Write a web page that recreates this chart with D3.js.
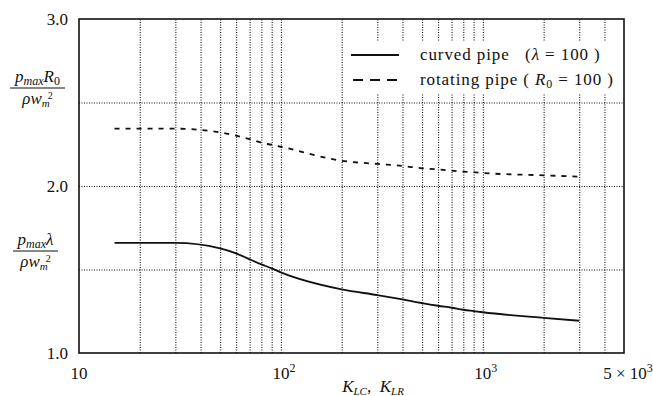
<!DOCTYPE html>
<html>
<head>
<meta charset="utf-8">
<script src="https://cdn.jsdelivr.net/npm/d3@7"></script>
<style>
  body { margin: 0; background: #fff; }
  text { font-family: "Liberation Serif", "DejaVu Serif", serif; fill: #111; white-space: pre; }
</style>
</head>
<body>
<div id="chart"></div>
<script>
// data
const kValues = [15, 30, 50, 60, 70, 80, 90, 100, 200, 300, 400, 500, 600, 700, 800, 900, 1000, 2000, 3000];
const curvedPipe = [1.66, 1.66, 1.627, 1.597, 1.561, 1.531, 1.507, 1.483, 1.381, 1.347, 1.321, 1.299, 1.283, 1.271, 1.259, 1.251, 1.244, 1.210, 1.193];
const rotatingPipe = [2.343, 2.343, 2.321, 2.301, 2.281, 2.259, 2.247, 2.235, 2.151, 2.132, 2.120, 2.106, 2.100, 2.092, 2.086, 2.083, 2.078, 2.064, 2.056];
const xGrid = [20, 30, 40, 50, 60, 70, 80, 90, 100, 200, 300, 400, 500, 600, 700, 800, 900, 1000, 2000, 3000, 4000];
const yGrid = [1.5, 2.0, 2.5];
const yTicks = [1.0, 2.0, 3.0];

const width = 653, height = 396;
const margin = {left: 79, right: 29, top: 19, bottom: 43};

const svg = d3.select("#chart").append("svg")
    .attr("width", width)
    .attr("height", height);

const x = d3.scaleLog().domain([10, 5000]).range([margin.left, width - margin.right]);
const y = d3.scaleLinear().domain([1, 3]).range([height - margin.bottom, margin.top]);

// dotted grid
svg.append("g")
    .attr("transform", `translate(0, ${y(1)})`)
    .call(d3.axisBottom(x).tickValues(xGrid).tickSize(-(y(1) - y(3))).tickFormat(""))
    .call(g => g.select(".domain").remove())
    .selectAll("line")
      .attr("stroke", "#111")
      .attr("stroke-width", 1.1)
      .attr("stroke-dasharray", "1,1.5");

svg.append("g")
    .attr("transform", `translate(${x(10)}, 0)`)
    .call(d3.axisLeft(y).tickValues(yGrid).tickSize(-(x(5000) - x(10))).tickFormat(""))
    .call(g => g.select(".domain").remove())
    .selectAll("line")
      .attr("stroke", "#111")
      .attr("stroke-width", 1.1)
      .attr("stroke-dasharray", "1,1.5");

// legend box covers the grid
svg.append("rect")
    .attr("x", 348).attr("y", 41)
    .attr("width", x(5000) - 348).attr("height", 53)
    .attr("fill", "#fff");

// frame
svg.append("rect")
    .attr("x", x(10)).attr("y", y(3))
    .attr("width", x(5000) - x(10)).attr("height", y(1) - y(3))
    .attr("fill", "none")
    .attr("stroke", "#111")
    .attr("stroke-width", 1.6);

const line = d3.line()
    .x((d, i) => x(kValues[i]))
    .y(d => y(d))
    .curve(d3.curveMonotoneX);

svg.append("path")
    .datum(curvedPipe)
    .attr("d", line)
    .attr("fill", "none")
    .attr("stroke", "#111")
    .attr("stroke-width", 1.8);

svg.append("path")
    .datum(rotatingPipe)
    .attr("d", line)
    .attr("fill", "none")
    .attr("stroke", "#111")
    .attr("stroke-width", 1.8)
    .attr("stroke-dasharray", "5,6");

// y tick labels
svg.selectAll(".ylab")
  .data(yTicks)
  .join("text")
    .attr("x", 68)
    .attr("y", d => y(d) + 6)
    .attr("text-anchor", "end")
    .attr("font-size", 17)
    .text(d => d.toFixed(1));

// x tick labels with powers
function powLabel(g, px, pre, exp) {
  const t = g.append("text")
      .attr("x", px).attr("y", 379)
      .attr("text-anchor", "middle")
      .attr("font-size", 17);
  t.append("tspan").text(pre);
  if (exp) t.append("tspan").attr("dy", -7).attr("font-size", 12).text(exp);
}
const xl = svg.append("g");
powLabel(xl, x(10), "10", null);
powLabel(xl, x(100) + 3, "10", "2");
powLabel(xl, x(1000) + 3, "10", "3");
powLabel(xl, x(5000) + 4, "5 \u00d7 10", "3");

// x axis title
const xt = svg.append("text")
    .attr("x", 373).attr("y", 392)
    .attr("text-anchor", "middle")
    .attr("font-size", 17);
xt.append("tspan").attr("font-style", "italic").text("K");
xt.append("tspan").attr("font-style", "italic").attr("font-size", 11).attr("dy", 3).text("LC");
xt.append("tspan").attr("dy", -3).text(",  ");
xt.append("tspan").attr("font-style", "italic").text("K");
xt.append("tspan").attr("font-style", "italic").attr("font-size", 11).attr("dy", 3).text("LR");

// fraction labels on the y axis
function fraction(cx, barY, half, num) {
  const g = svg.append("g");
  const n = g.append("text")
      .attr("x", cx).attr("y", barY - 6)
      .attr("text-anchor", "middle")
      .attr("font-size", 17)
      .attr("font-style", "italic");
  n.append("tspan").text("p");
  n.append("tspan").attr("font-size", 12).attr("dy", 3).text("max");
  n.append("tspan").attr("dy", -3).text(num[0]);
  if (num[1]) {
    n.append("tspan").attr("font-size", 12).attr("dy", 3).attr("font-style", "normal").text(num[1]);
  }
  g.append("line")
      .attr("x1", cx - half).attr("x2", cx + half)
      .attr("y1", barY).attr("y2", barY)
      .attr("stroke", "#111").attr("stroke-width", 1.1);
  const d = g.append("text")
      .attr("x", cx).attr("y", barY + 16)
      .attr("text-anchor", "middle")
      .attr("font-size", 17)
      .attr("font-style", "italic");
  d.append("tspan").text("\u03c1w");
  d.append("tspan").attr("font-size", 11).attr("dy", 3).text("m");
  d.append("tspan").attr("font-size", 10).attr("dy", -8).attr("dx", -2).attr("font-style", "normal").text("2");
}
fraction(37.5, 88, 27.5, ["R", "0"]);
fraction(35.5, 251, 22.5, ["\u03bb", null]);

// legend
const legend = svg.append("g");
legend.append("line")
    .attr("x1", 351).attr("x2", 399).attr("y1", 55).attr("y2", 55)
    .attr("stroke", "#111").attr("stroke-width", 1.8);
legend.append("line")
    .attr("x1", 353).attr("x2", 399).attr("y1", 80).attr("y2", 80)
    .attr("stroke", "#111").attr("stroke-width", 1.8)
    .attr("stroke-dasharray", "10,7");

const l1 = legend.append("text").attr("x", 420).attr("y", 60)
    .attr("font-size", 17).attr("letter-spacing", 0.9);
l1.append("tspan").text("curved pipe   (");
l1.append("tspan").attr("font-style", "italic").text("\u03bb");
l1.append("tspan").text(" = 100 )");

const l2 = legend.append("text").attr("x", 420).attr("y", 85)
    .attr("font-size", 17).attr("letter-spacing", 0.9);
l2.append("tspan").text("rotating pipe ( ");
l2.append("tspan").attr("font-style", "italic").text("R");
l2.append("tspan").attr("font-size", 12).attr("dy", 3).text("0");
l2.append("tspan").attr("dy", -3).text(" = 100 )");
</script>
</body>
</html>
